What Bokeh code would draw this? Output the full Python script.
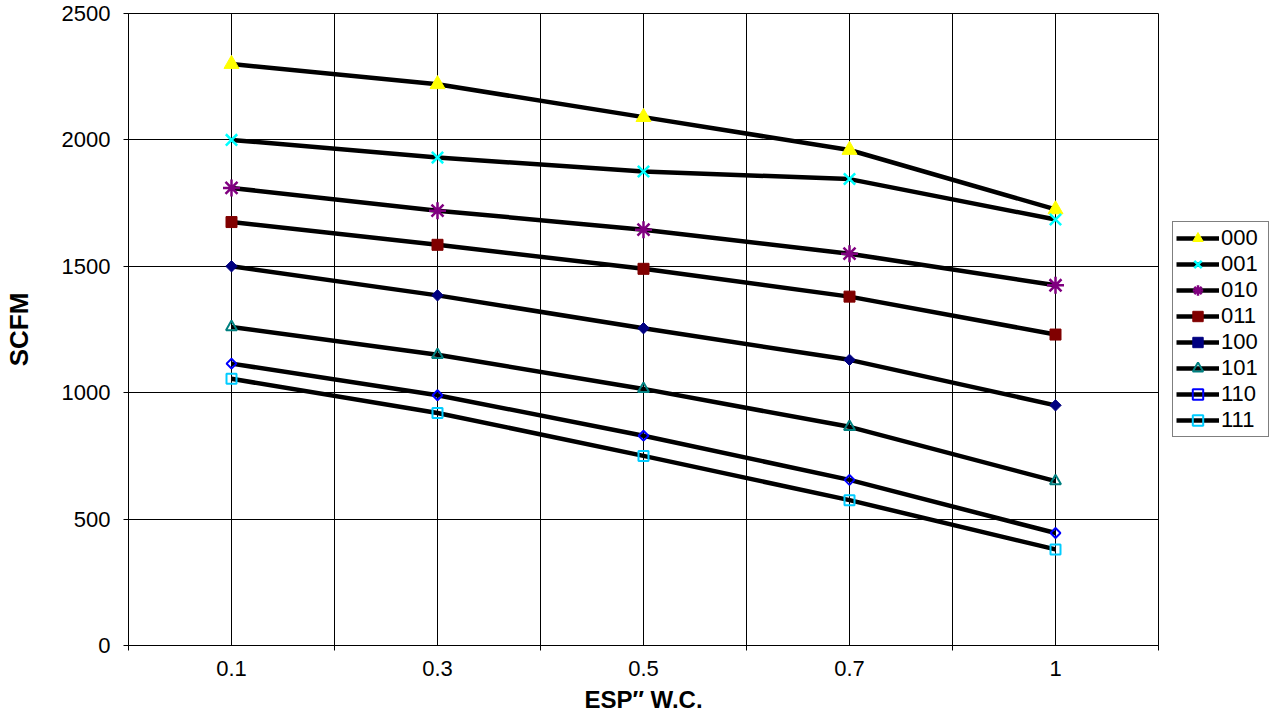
import math
from bokeh.plotting import figure
from bokeh.models import (FactorRange, Range1d, LinearAxis, FixedTicker,
                          Grid, Legend, LegendItem, CustomJSTickFormatter)
from bokeh.embed import file_html
from bokeh.resources import INLINE

# ---- data ----
esp = ["0.1", "0.3", "0.5", "0.7", "1"]
s000 = [2300, 2220, 2090, 1960, 1725]
s001 = [2000, 1930, 1875, 1845, 1685]
s010 = [1810, 1720, 1645, 1550, 1425]
s011 = [1675, 1585, 1490, 1380, 1230]
s100 = [1500, 1385, 1255, 1130, 950]
s101 = [1260, 1150, 1015, 865, 650]
s110 = [1115, 990, 830, 655, 445]
s111 = [1055, 920, 750, 575, 380]
series_names = ["000", "001", "010", "011", "100", "101", "110", "111"]
y_ticks = [0, 500, 1000, 1500, 2000, 2500]
bound_ticks = [0, 1, 2, 3, 4, 5]   # category boundaries in factor-range units

FONT = "Liberation Sans"

p = figure(width=1270, height=727, frame_width=1030, frame_height=632,
           x_range=FactorRange(*esp, range_padding=0),
           y_range=Range1d(0, 2500),
           output_backend="svg", toolbar_location=None,
           min_border_left=128, min_border_right=0,
           min_border_top=13, min_border_bottom=82)
p.background_fill_color = "white"
p.border_fill_color = "white"
p.outline_line_color = "black"
p.outline_line_width = 1

# y axis
ya = p.yaxis[0]
ya.ticker = FixedTicker(ticks=y_ticks)
ya.major_tick_out = 5
ya.major_tick_in = 0
ya.minor_tick_out = 0
ya.minor_tick_in = 0
ya.axis_line_color = "black"
ya.major_tick_line_color = "black"
ya.major_label_text_font = FONT
ya.major_label_text_font_size = "22px"
ya.major_label_text_color = "black"
ya.major_label_standoff = 13
ya.axis_label = "SCFM"
ya.axis_label_text_font = FONT
ya.axis_label_text_font_style = "bold"
ya.axis_label_text_font_size = "26px"
ya.axis_label_text_color = "black"
ya.axis_label_standoff = 25

# x categorical axis (labels only)
xa = p.xaxis[0]
xa.axis_line_color = None
xa.major_tick_out = 0
xa.major_tick_in = 0
xa.major_label_text_font = FONT
xa.major_label_text_font_size = "22px"
xa.major_label_text_color = "black"
xa.major_label_standoff = 10
xa.axis_label = "ESP\u2033 W.C."
xa.axis_label_text_font = FONT
xa.axis_label_text_font_style = "bold"
xa.axis_label_text_font_size = "24px"
xa.axis_label_text_color = "black"
xa.axis_label_standoff = 7

# boundary tick axis (category boundaries)
ba = LinearAxis(ticker=FixedTicker(ticks=bound_ticks),
                formatter=CustomJSTickFormatter(code="return ''"),
                major_tick_out=5, major_tick_in=0, minor_tick_out=0, minor_tick_in=0,
                major_label_standoff=0, major_label_text_font_size="1px",
                axis_line_color="black", major_tick_line_color="black")
p.below = [ba, xa]

# grids
p.xgrid.grid_line_color = "black"
p.xgrid.grid_line_width = 1
p.ygrid.ticker = FixedTicker(ticks=y_ticks)
p.ygrid.grid_line_color = "black"
p.ygrid.grid_line_width = 1
p.add_layout(Grid(dimension=0, ticker=FixedTicker(ticks=bound_ticks),
                  grid_line_color="black", grid_line_width=1), "center")

series = [s000, s001, s010, s011, s100, s101, s110, s111]
rot = math.pi / 4
styles = [
    dict(marker="triangle", size=15, fill_color="#FFFF00", line_color="#FFFF00", line_width=1),
    dict(marker="x", size=16, fill_color=None, line_color="#00FFFF", line_width=2.5),
    dict(marker="asterisk", size=17, fill_color=None, line_color="#800080", line_width=2.5),
    dict(marker="square", size=11, fill_color="#800000", line_color="#800000", line_width=1),
    dict(marker="square", size=8, angle=rot, fill_color="#000080", line_color="#000080", line_width=1),
    dict(marker="triangle", size=11, fill_color=None, line_color="#008080", line_width=2),
    dict(marker="square", size=7, angle=rot, fill_color=None, line_color="#0000FF", line_width=2),
    dict(marker="square", size=10, fill_color=None, line_color="#00CCFF", line_width=2),
]

items = []
for name, vals, st in zip(series_names, series, styles):
    lr = p.line(esp, vals, line_color="black", line_width=4.5)
    mr = p.scatter(esp, vals, **st)
    items.append(LegendItem(label=name, renderers=[lr, mr]))

legend = Legend(items=items, location="left",
                label_text_font=FONT, label_text_font_size="22px",
                label_text_color="black", label_standoff=2,
                glyph_width=43, glyph_height=26, label_height=26, label_width=44,
                spacing=0, padding=3, margin=14,
                border_line_color="black", border_line_width=1,
                background_fill_color="white", background_fill_alpha=1)
p.add_layout(legend, "right")

open("out.html", "w").write(file_html(p, INLINE))
